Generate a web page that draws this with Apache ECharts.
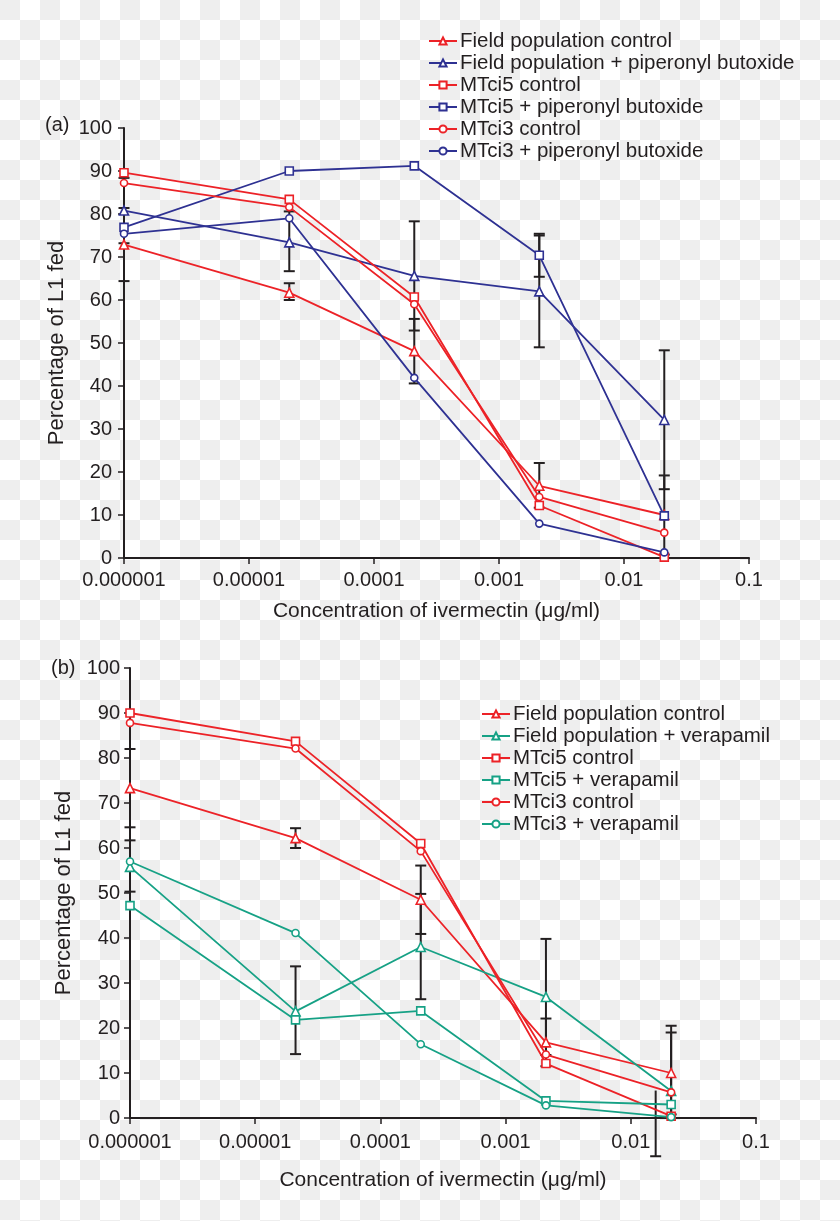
<!DOCTYPE html>
<html>
<head>
<meta charset="utf-8">
<script src="https://cdn.jsdelivr.net/npm/echarts@6/dist/echarts.min.js"></script>
<style>
html,body{margin:0;padding:0;}
body{
  width:840px;height:1221px;background-color:#fff;
  background-image:linear-gradient(45deg,#eeeeee 25%,transparent 25%,transparent 75%,#eeeeee 75%),linear-gradient(45deg,#eeeeee 25%,transparent 25%,transparent 75%,#eeeeee 75%);
  background-size:40px 40px;background-position:20px 0,0 20px;
}
#chart{width:840px;height:1221px;}
</style>
</head>
<body>
<div id="chart"></div>
<script>
// ---------- data ----------
const concentrations = [1e-6, 2.1e-5, 2.1e-4, 2.1e-3, 2.1e-2];
const xTickLabels = ['0.000001', '0.00001', '0.0001', '0.001', '0.01', '0.1'];

// panel (a)
const namesA = ['Field population control', 'Field population + piperonyl butoxide', 'MTci5 control', 'MTci5 + piperonyl butoxide', 'MTci3 control', 'MTci3 + piperonyl butoxide'];
const fieldCtrlA = [72.9, 61.7, 48.1, 16.8, 10.0];
const fieldPboA  = [80.8, 73.4, 65.6, 62.0, 32.1];
const mt5CtrlA   = [89.6, 83.4, 60.7, 12.2, 0.2];
const mt5PboA    = [76.9, 90.0, 91.2, 70.4, 9.8];
const mt3CtrlA   = [87.2, 81.6, 59.0, 14.2, 5.9];
const mt3PboA    = [75.4, 79.0, 41.9, 8.0, 1.3];
// error bars: [x, low, high, capLow, capHigh]
const errA = [
  [1e-6, 64.4, 81.4, 1, 1], [1e-6, 73.2, 88.4, 1, 1],
  [2.1e-5, 60.0, 63.9, 1, 1], [2.1e-5, 66.7, 80.6, 1, 1],
  [2.1e-4, 52.9, 78.3, 1, 1], [2.1e-4, 40.6, 55.6, 1, 1],
  [2.1e-3, 65.4, 75.4, 1, 1], [2.1e-3, 49.0, 75.0, 1, 1], [2.1e-3, 11.7, 22.1, 1, 1],
  [2.1e-2, 16.0, 48.3, 1, 1], [2.1e-2, 0.8, 19.2, 1, 1]
];

// panel (b)
const namesB = ['Field population control', 'Field population + verapamil', 'MTci5 control', 'MTci5 + verapamil', 'MTci3 control', 'MTci3 + verapamil'];
const fieldCtrlB = [73.3, 62.2, 48.5, 16.8, 10.0];
const fieldVerB  = [55.8, 23.7, 38.0, 26.9, 6.0];
const mt5CtrlB   = [90.0, 83.7, 61.0, 12.1, 0.4];
const mt5VerB    = [47.2, 21.8, 23.8, 3.8, 3.0];
const mt3CtrlB   = [87.8, 82.1, 59.3, 14.1, 5.7];
const mt3VerB    = [57.0, 41.1, 16.4, 2.8, 0.2];
const errB = [
  [1e-6, 64.6, 82.0, 1, 1], [1e-6, 50.3, 61.7, 1, 1],
  [2.1e-5, 60.0, 64.4, 1, 1], [2.1e-5, 14.2, 33.7, 1, 1],
  [2.1e-4, 40.9, 56.1, 1, 1], [2.1e-4, 26.4, 49.8, 1, 1],
  [2.1e-3, 14.0, 39.8, 1, 1], [2.1e-3, 11.5, 22.1, 1, 1],
  [2.1e-2, 0.8, 19.0, 1, 1], [2.1e-2, 0, 20.5, 0, 1],
  [1.58e-2, -8.5, 6.1, 1, 0]
];

// ---------- styling ----------
const RED = '#ec2227', BLUE = '#2e3192', GREEN = '#16a185', INK = '#231f20';
const FONT = 'Liberation Sans, Arial, Helvetica, sans-serif';
const symbols = ['triangle', 'triangle', 'rect', 'rect', 'circle', 'circle'];
const symSizes = [9, 9, 8, 8, 7, 7];

function pairs(ys) { return ys.map((y, i) => [concentrations[i], y]); }
function lineSeries(name, ys, color, k, idx) {
  return {
    type: 'line', name: name, xAxisIndex: idx, yAxisIndex: idx,
    data: pairs(ys), symbol: symbols[k], symbolSize: symSizes[k],
    showAllSymbol: true, z: 3,
    lineStyle: { color: color, width: 1.8 },
    itemStyle: { color: '#ffffff', borderColor: color, borderWidth: 1.6 },
    emphasis: { disabled: true },
    animation: false
  };
}

function renderErr(params, api) {
  const x = api.value(0), lo = api.value(1), hi = api.value(2);
  const pLo = api.coord([x, lo]), pHi = api.coord([x, hi]);
  const w = 5.5;
  const st = { stroke: INK, lineWidth: 2 };
  const ch = [{ type: 'line', shape: { x1: pLo[0], y1: pLo[1], x2: pHi[0], y2: pHi[1] }, style: st }];
  if (api.value(3)) ch.push({ type: 'line', shape: { x1: pLo[0] - w, y1: pLo[1], x2: pLo[0] + w, y2: pLo[1] }, style: st });
  if (api.value(4)) ch.push({ type: 'line', shape: { x1: pHi[0] - w, y1: pHi[1], x2: pHi[0] + w, y2: pHi[1] }, style: st });
  return { type: 'group', children: ch };
}
function errSeries(data, idx) {
  return {
    type: 'custom', xAxisIndex: idx, yAxisIndex: idx, data: data,
    renderItem: renderErr, clip: false, z: 2, silent: true,
    encode: { x: 0, y: [1, 2] }, animation: false
  };
}

function xAxis(idx, nameGap, labelMargin) {
  return {
    type: 'log', logBase: 10, min: 1e-6, max: 0.1, gridIndex: idx,
    name: 'Concentration of ivermectin (\u03bcg/ml)', nameLocation: 'middle', nameGap: nameGap,
    nameTextStyle: { color: INK, fontSize: 21, fontFamily: FONT },
    axisLine: { lineStyle: { color: INK, width: 2 } },
    axisTick: { show: true, length: 6, lineStyle: { color: INK, width: 1.5 } },
    minorTick: { show: false },
    splitLine: { show: false },
    axisLabel: {
      color: INK, fontSize: 20, fontFamily: FONT, margin: labelMargin,
      formatter: v => xTickLabels[Math.round(Math.log10(v)) + 6]
    }
  };
}
function yAxis(idx, nameGap, labelMargin) {
  return {
    type: 'value', min: 0, max: 100, interval: 10, gridIndex: idx,
    name: 'Percentage of L1 fed', nameLocation: 'middle', nameGap: nameGap,
    nameTextStyle: { color: INK, fontSize: 22, fontFamily: FONT },
    axisLine: { show: true, lineStyle: { color: INK, width: 2 } },
    axisTick: { show: true, length: 6, lineStyle: { color: INK, width: 1.5 } },
    splitLine: { show: false },
    axisLabel: { color: INK, fontSize: 20, fontFamily: FONT, margin: labelMargin }
  };
}
function legend(names, left, top) {
  return {
    orient: 'vertical', left: left, top: top, data: names,
    itemWidth: 28, itemHeight: 9, itemGap: 0, padding: 0,
    textStyle: { color: INK, fontSize: 20.5, fontFamily: FONT, lineHeight: 22, padding: [0, 0, 0, -2] },
    selectedMode: false
  };
}

const colorsA = [RED, BLUE, RED, BLUE, RED, BLUE];
const colorsB = [RED, GREEN, RED, GREEN, RED, GREEN];
const valsA = [fieldCtrlA, fieldPboA, mt5CtrlA, mt5PboA, mt3CtrlA, mt3PboA];
const valsB = [fieldCtrlB, fieldVerB, mt5CtrlB, mt5VerB, mt3CtrlB, mt3VerB];

const series = [errSeries(errA, 0), errSeries(errB, 1)];
valsA.forEach((v, k) => series.push(lineSeries(namesA[k], v, colorsA[k], k, 0)));
valsB.forEach((v, k) => series.push(lineSeries(namesB[k], v, colorsB[k], k, 1)));

const chart = echarts.init(document.getElementById('chart'), null, { renderer: 'canvas' });
chart.setOption({
  backgroundColor: 'transparent',
  animation: false,
  textStyle: { fontFamily: FONT },
  grid: [
    { left: 124, top: 128, width: 625, height: 430 },
    { left: 130, top: 668, width: 626, height: 450 }
  ],
  xAxis: [xAxis(0, 43, 12), xAxis(1, 52, 14)],
  yAxis: [yAxis(0, 56, 12), yAxis(1, 55, 10)],
  legend: [legend(namesA, 428, 30), legend(namesB, 481, 703)],
  graphic: [
    { type: 'text', left: 45, top: 115, style: { text: '(a)', fill: INK, font: '20px ' + FONT } },
    { type: 'text', left: 51, top: 658, style: { text: '(b)', fill: INK, font: '20px ' + FONT } }
  ],
  series: series
});
</script>
</body>
</html>
